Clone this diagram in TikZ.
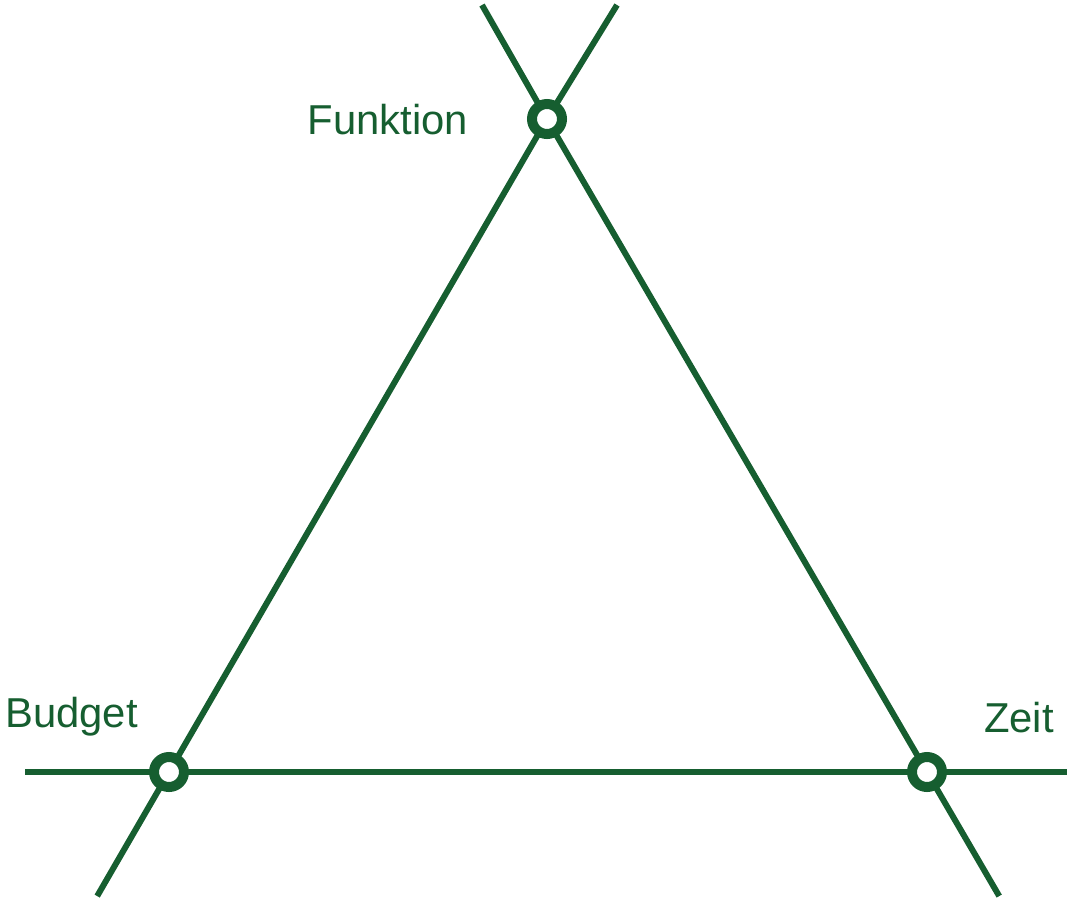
\documentclass[tikz,border=0pt]{standalone}
\usepackage{fontspec}
\setmainfont{Liberation Sans}
\usetikzlibrary{calc}
\definecolor{dg}{RGB}{22,94,48}
\begin{document}
\begin{tikzpicture}[x=1pt,y=-1pt,
  edge/.style={draw=dg,line width=6pt},
  vtx/.style={circle,draw=dg,line width=10pt,fill=white,minimum size=30pt,inner sep=0pt},
  lbl/.style={text=dg,font=\fontsize{41.8}{48}\selectfont,inner sep=0pt}]
\useasboundingbox (0,0) rectangle (1067,900);
\coordinate (pF) at (547,119);
\coordinate (pB) at (169,772);
\coordinate (pZ) at (927,772);
\coordinate (l1a) at (617,5);
\coordinate (l1b) at ($(pB)!-0.19!(pF)$);
\coordinate (l2a) at (482,5);
\coordinate (l2b) at ($(pZ)!-0.19!(pF)$);
\coordinate (h1) at (25,772);
\coordinate (h2) at (1067,772);
\draw[edge] (l1a) -- (pF) -- (pB) -- (l1b);
\draw[edge] (l2a) -- (pF) -- (pZ) -- (l2b);
\draw[edge] (h1) -- (h2);
\node[vtx] (F) at (pF) {};
\node[vtx] (B) at (pB) {};
\node[vtx] (Z) at (pZ) {};
\node[lbl,anchor=base east] (tF) at (468,134) {Funktion};
\node[lbl,anchor=base west] (tB) at (5,727) {Budget};
\node[lbl,anchor=base west] (tZ) at (984,732) {Zeit};
\end{tikzpicture}
\end{document}
